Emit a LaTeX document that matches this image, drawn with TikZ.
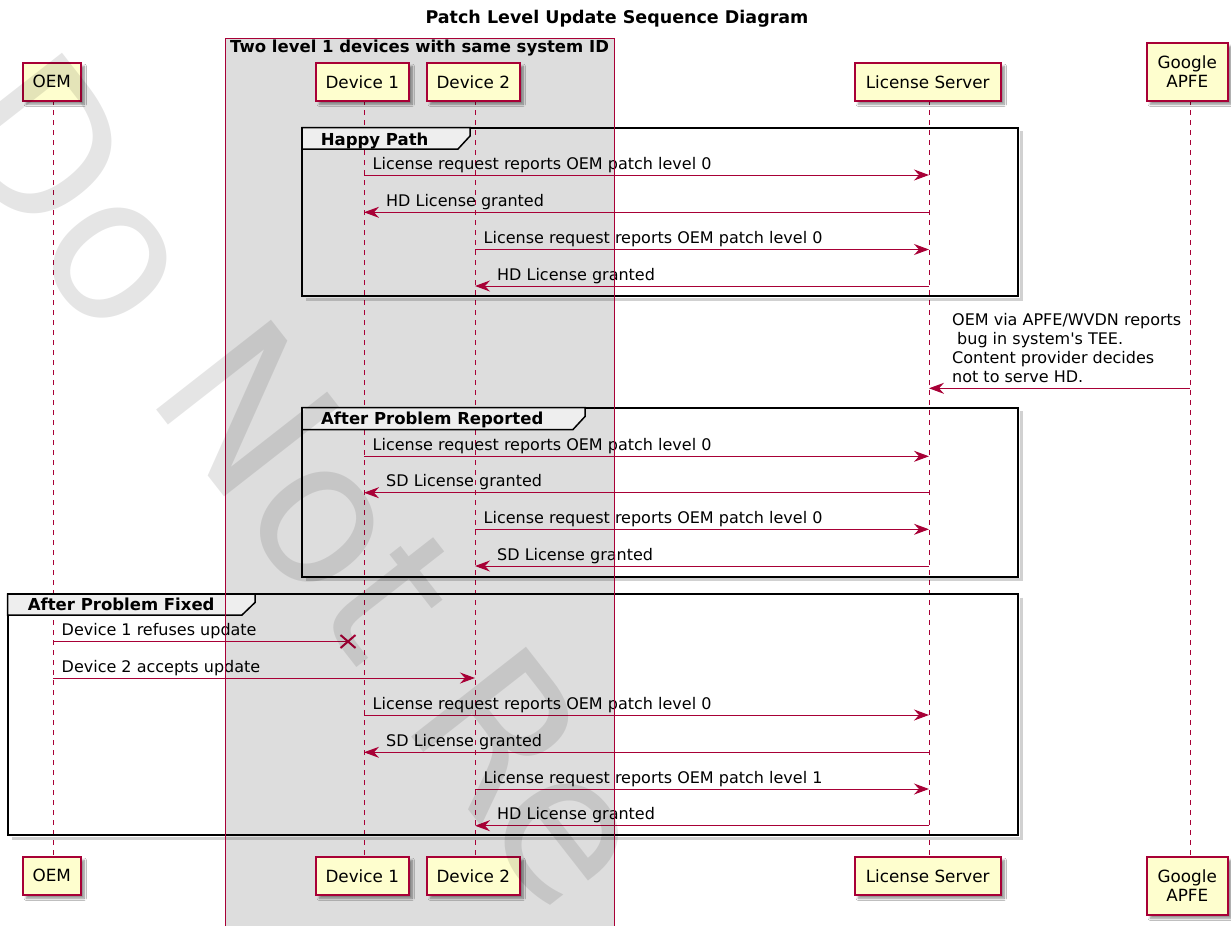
\documentclass[tikz,border=0pt]{standalone}
\usepackage{fontspec}
\setmainfont{DejaVu Sans}
\newfontfamily\plainapos{DejaVu Sans}
\usetikzlibrary{arrows.meta,shadows.blur,calc}
\definecolor{umlred}{HTML}{A80036}
\definecolor{partfill}{HTML}{FEFECE}
\definecolor{boxfill}{HTML}{DDDDDD}
\definecolor{tabfill}{HTML}{EEEEEE}
\tikzset{
  part/.style={draw=umlred, line width=1.5pt, fill=partfill, inner sep=0pt, anchor=north west,
    font=\fontsize{16.8}{19.5}\selectfont, align=center,
    blur shadow={shadow xshift=3.5pt, shadow yshift=-3.5pt, shadow blur steps=6, shadow opacity=45}},
  lifeline/.style={draw=umlred, line width=1pt, dash pattern=on 5pt off 5pt},
  msgline/.style={draw=umlred, line width=1pt},
  umlhead/.style={-{Stealth[length=15pt,width=11pt,inset=5pt]}},
  lbl/.style={anchor=base west, inner sep=0pt, font=\fontsize{16}{19.07}\selectfont, align=left},
  grptitle/.style={anchor=base west, inner sep=0pt, font=\bfseries\fontsize{16.5}{19}\selectfont},
  frame/.style={draw=black, line width=2pt},
  frameshadow/.style={draw=black, line width=3pt, opacity=0.18},
  tab/.style={draw=black, line width=1.5pt, fill=tabfill, line join=miter},
  cross/.style={draw=umlred, line width=2pt}
}
\newcommand\MsgR[4]{%
  \draw[msgline,umlhead] (#1 |- 0,#3) -- (#2 |- 0,#3);
  \path (#1 |- 0,#3) ++(8.5,-6) node[lbl] {#4};}
\newcommand\MsgL[4]{%
  \draw[msgline,umlhead] (#1 |- 0,#3) -- (#2 |- 0,#3);
  \path (#2 |- 0,#3) ++(22,-6) node[lbl] {#4};}
\begin{document}
\begin{tikzpicture}[x=1pt,y=-1pt]
\useasboundingbox (0,0) rectangle (1231,926);
\fill[white] (0,0) rectangle (1231,926);

% grouping box
\fill[boxfill] (225,38) rectangle (614,926);
\node[grptitle] (boxtitle) at (230,52.5) {Two level 1 devices with same system ID};

% title
\node[anchor=base, inner sep=0pt, font=\bfseries\fontsize{17.5}{20}\selectfont] (title) at (617,23.5) {Patch Level Update Sequence Diagram};

% lifeline anchors
\coordinate (oemT) at (53,100);   \coordinate (oemB) at (53,856);
\coordinate (d1T) at (364,100);   \coordinate (d1B) at (364,856);
\coordinate (d2T) at (475,100);   \coordinate (d2B) at (475,856);
\coordinate (lsT) at (929,100);   \coordinate (lsB) at (929,856);
\coordinate (gaT) at (1190,100);  \coordinate (gaB) at (1190,856);

\draw[lifeline] (oemT) -- (oemB);
\draw[lifeline] (d1T) -- (d1B);
\draw[lifeline] (d2T) -- (d2B);
\draw[lifeline] (lsT) -- (lsB);
\draw[lifeline] (gaT) -- (gaB);

% group frames
\draw[frameshadow] (1021,131) -- (1021,299) -- (306,299);
\draw[frame] (302,127.5) rectangle (1018,296);
\draw[frameshadow] (1021,411) -- (1021,579.5) -- (306,579.5);
\draw[frame] (302,407.5) rectangle (1018,576.5);
\draw[frameshadow] (1021,597.5) -- (1021,838) -- (11.5,838);
\draw[frame] (7.5,594) rectangle (1018,835);

% messages: Happy Path
\MsgR{d1T}{lsT}{175}{License request reports OEM patch level 0}
\MsgL{lsT}{d1T}{212.3}{HD License granted}
\MsgR{d2T}{lsT}{249.5}{License request reports OEM patch level 0}
\MsgL{lsT}{d2T}{286}{HD License granted}

% Google report
\draw[msgline,umlhead] (gaT |- 0,388.3) -- (lsT |- 0,388.3);
\node[lbl] (note) at (952,382.5) {OEM via APFE/WVDN reports\\\hspace*{5pt}bug in system{\plainapos '}s TEE.\\Content provider decides\\not to serve HD.};

% After Problem Reported
\MsgR{d1T}{lsT}{456.3}{License request reports OEM patch level 0}
\MsgL{lsT}{d1T}{492.7}{SD License granted}
\MsgR{d2T}{lsT}{529.3}{License request reports OEM patch level 0}
\MsgL{lsT}{d2T}{566}{SD License granted}

% After Problem Fixed
\coordinate (xmark) at (348,641.5);
\draw[msgline] (oemT |- 0,641.5) -- (xmark);
\path (oemT |- 0,641.5) ++(8.5,-6) node[lbl] {Device 1 refuses update};
\draw[cross] ($(xmark)+(-7.5,-6.5)$) -- ($(xmark)+(7.5,6.5)$);
\draw[cross] ($(xmark)+(-7.5,6.5)$) -- ($(xmark)+(7.5,-6.5)$);
\MsgR{oemT}{d2T}{678}{Device 2 accepts update}
\MsgR{d1T}{lsT}{715}{License request reports OEM patch level 0}
\MsgL{lsT}{d1T}{752.3}{SD License granted}
\MsgR{d2T}{lsT}{789}{License request reports OEM patch level 1}
\MsgL{lsT}{d2T}{825.7}{HD License granted}

% tabs
\draw[tab] (302,127.5) -- (470,127.5) -- (470,136) -- (458,149) -- (302,149) -- cycle;
\node[grptitle] (g1) at (320.7,145) {Happy Path};
\draw[tab] (302,407.5) -- (585,407.5) -- (585,416.5) -- (573,429.5) -- (302,429.5) -- cycle;
\node[grptitle] (g2) at (321,424.7) {After Problem Reported};
\draw[tab] (7.5,594) -- (255,594) -- (255,602.5) -- (242,615) -- (7.5,615) -- cycle;
\node[grptitle] (g3) at (27.7,610.7) {After Problem Fixed};

% box border
\draw[umlred, line width=1pt] (225,926) -- (225,38) -- (614,38) -- (614,926);

% participants
\node[part, minimum width=58, minimum height=38] (oem1) at (22,62) {OEM};
\node[part, minimum width=93, minimum height=38] (dev1a) at (315,62) {Device 1};
\node[part, minimum width=93, minimum height=38] (dev2a) at (426,62) {Device 2};
\node[part, minimum width=146, minimum height=38] (lsa) at (854,62) {License Server};
\node[part, minimum width=81, minimum height=58] (gaa) at (1146,42) {Google\\APFE};
\node[part, minimum width=58, minimum height=38] (oem2) at (22,856) {OEM};
\node[part, minimum width=93, minimum height=38] (dev1b) at (315,856) {Device 1};
\node[part, minimum width=93, minimum height=38] (dev2b) at (426,856) {Device 2};
\node[part, minimum width=146, minimum height=38] (lsb) at (854,856) {License Server};
\node[part, minimum width=81, minimum height=58] (gab) at (1146,856) {Google\\APFE};

% watermark
\begin{scope}
\clip (0,0) rectangle (1231,926);
\node[rotate=-52, anchor=base west, inner sep=0pt, text=black, opacity=0.1,
  font=\fontsize{200}{200}\selectfont] (wm) at (-65,127) {Do Not Re};
\end{scope}
\end{tikzpicture}
\end{document}
